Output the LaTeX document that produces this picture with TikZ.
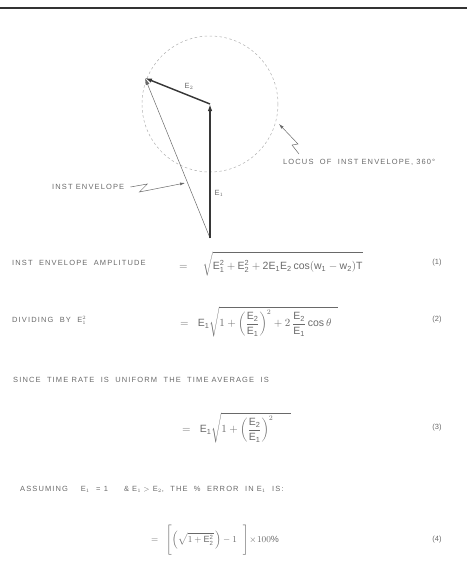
\documentclass[tikz,border=0pt]{standalone}
\usepackage{fontspec}
\setmainfont{Liberation Sans}
\newfontfamily\plate[LetterSpace=15]{Liberation Sans}
\usetikzlibrary{arrows.meta}
\definecolor{InkGray}{RGB}{105,105,105}
\definecolor{InkDark}{RGB}{55,55,55}
\definecolor{InkLight}{RGB}{175,175,175}
\tikzset{
  ph/label/.style={font=\plate\fontsize{7.5}{9}\selectfont, text=InkGray, anchor=west, inner sep=0pt},
  ph/eq/.style={font=\fontsize{10.5}{12}\selectfont, text=InkGray, anchor=west, inner sep=0pt},
  ph/num/.style={font=\fontsize{7.5}{9}\selectfont, text=InkGray, inner sep=0pt},
  ph/vec/.style={-{Latex[length=7pt,width=4.5pt]}, line width=1.4pt, draw=InkDark},
  ph/res/.style={-{Latex[length=7pt,width=4pt]}, line width=0.5pt, draw=InkGray},
  ph/locus/.style={dash pattern=on 2.5pt off 2.5pt, line width=0.5pt, draw=InkLight},
  ph/pointer/.style={-{Latex[length=5pt,width=3pt]}, line width=0.5pt, draw=InkGray},
  ph/rule/.style={line width=2.5pt, draw=black!80}
}
\begin{document}
\begin{tikzpicture}[x=1pt,y=-1pt]
  \useasboundingbox (0,0) rectangle (467,576);
  \draw[ph/rule] (0,8) -- (467,8);
  % phasor diagram
  \coordinate (origin) at (210,238);
  \coordinate (tipone) at (210,104);
  \coordinate (tiptwo) at (145,78);
  \draw[ph/locus] (tipone) circle[radius=68];
  \draw[ph/res] (origin) -- (tiptwo);
  \draw[ph/vec] (origin) -- (tipone);
  \draw[ph/vec] (tipone) -- (tiptwo);
  \node[ph/num] (lblone) at (219,193) {E$_1$};
  \node[ph/num] (lbltwo) at (189,86) {E$_2$};
  % pointers
  \node[ph/label] (inst) at (52,187) {INST\ ENVELOPE};
  \coordinate (instend) at (185,183);
  \draw[ph/pointer] (inst.east) ++(6,0) -- ++(17,-3) -- ++(-8,8) -- (instend);
  \node[ph/label] (locus) at (283,162) {LOCUS\ \ OF\ \ INST\ ENVELOPE,\ 360\textdegree};
  \coordinate (locusend) at (279,124);
  \draw[ph/pointer] (299,154) -- (292,145) -- (298,144) -- (locusend);
  % equations
  \node[ph/label] (lbla) at (12,263) {INST\ \ ENVELOPE\ \ AMPLITUDE};
  \node[ph/eq] (eqa) at (179,264) {$=\hspace{12pt}\sqrt{\rule[-5pt]{0pt}{20pt}\mathrm{E_1^2+E_2^2+2E_1E_2\,cos(w_1-w_2)T}}$};
  \node[ph/num] (numa) at (437,263) {(1)};
  \node[ph/label] (lblb) at (12,320) {DIVIDING\ \ BY\ \ E$_1^2$};
  \node[ph/eq] (eqb) at (180,322) {$\displaystyle =\hspace{6pt}\mathrm{E_1}\sqrt{1+\left(\frac{\mathrm{E_2}}{\mathrm{E_1}}\right)^{2}+2\,\frac{\mathrm{E_2}}{\mathrm{E_1}}\cos\theta\hspace{6pt}}$};
  \node[ph/num] (numb) at (437,320) {(2)};
  \node[ph/label] (lblc) at (13,380) {SINCE\ \ TIME\ RATE\ \ IS\ \ UNIFORM\ \ THE\ \ TIME AVERAGE\ \ IS};
  \node[ph/eq] (eqc) at (182,428) {$\displaystyle =\hspace{6pt}\mathrm{E_1}\sqrt{1+\left(\frac{\mathrm{E_2}}{\mathrm{E_1}}\right)^{2}\hspace{18pt}}$};
  \node[ph/num] (numc) at (437,428) {(3)};
  \node[ph/label] (lbld) at (20,489) {ASSUMING\ \ \ \ E$_1$\ \ =\ 1\ \ \ \ \ \&\ E$_1>$ E$_2$,\ \ THE\ \ \%\ \ ERROR\ \ IN\ E$_1$\ \ IS:};
  \node[ph/eq,font=\fontsize{9}{11}\selectfont] (eqd) at (151,540) {$\displaystyle =\hspace{5pt}\Bigg[\Big(\sqrt{1+\mathrm{E_2^2}}\,\Big)-1\hspace{6pt}\Bigg]\!\times\! 100\%$};
  \node[ph/num] (numd) at (437,540) {(4)};
\end{tikzpicture}
\end{document}
